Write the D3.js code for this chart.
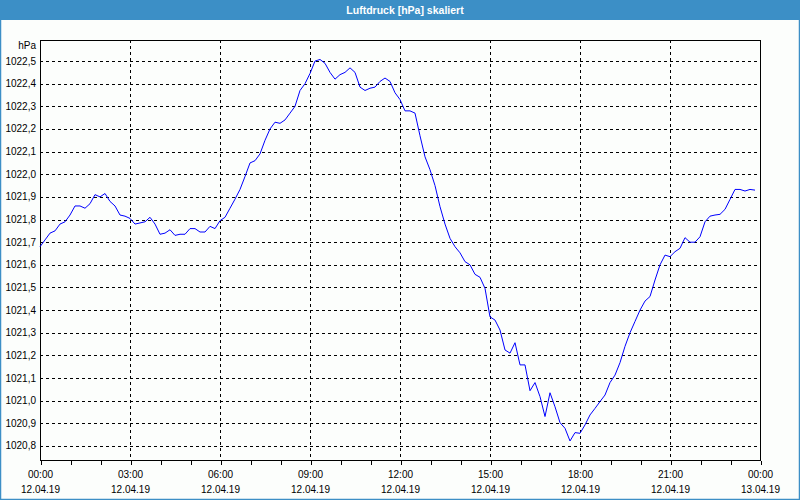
<!DOCTYPE html>
<html>
<head>
<meta charset="utf-8">
<script src="https://cdn.jsdelivr.net/npm/d3@7"></script>
<style>
  body { margin: 0; background: #fff; }
  text { font-family: "Liberation Sans", Arial, sans-serif; }
</style>
</head>
<body>
<div id="chart"></div>
<script>
// pressure samples every 10 minutes, 12.04.19 00:00 .. 23:50
var startTime = new Date(2019, 3, 12, 0, 0);
var endTime = new Date(2019, 3, 13, 0, 0);
var stepMinutes = 10;

var pressure = [
    1021.68, 1021.71, 1021.74, 1021.75, 1021.78, 1021.79, 1021.82, 1021.86, 1021.86, 1021.85,
    1021.87, 1021.91, 1021.90, 1021.915, 1021.88, 1021.86, 1021.82, 1021.815, 1021.805, 1021.78,
    1021.785, 1021.79, 1021.81, 1021.78, 1021.735, 1021.74, 1021.755, 1021.73, 1021.735, 1021.735,
    1021.76, 1021.76, 1021.745, 1021.745, 1021.77, 1021.76, 1021.795, 1021.81, 1021.85, 1021.89,
    1021.933, 1021.99, 1022.05, 1022.06, 1022.09, 1022.15, 1022.20, 1022.23, 1022.225, 1022.24,
    1022.27, 1022.30, 1022.37, 1022.40, 1022.445, 1022.50, 1022.507, 1022.49, 1022.45, 1022.42,
    1022.44, 1022.45, 1022.47, 1022.45, 1022.385, 1022.37, 1022.38, 1022.385, 1022.41, 1022.425,
    1022.41, 1022.36, 1022.33, 1022.28, 1022.28, 1022.27, 1022.17, 1022.077, 1022.02, 1021.95,
    1021.857, 1021.78, 1021.717, 1021.68, 1021.653, 1021.614, 1021.60, 1021.558, 1021.545, 1021.496,
    1021.37, 1021.356, 1021.312, 1021.224, 1021.21, 1021.256, 1021.158, 1021.158, 1021.044, 1021.08,
    1021.018, 1020.93, 1021.035, 1020.973, 1020.903, 1020.878, 1020.822, 1020.859, 1020.856, 1020.893,
    1020.937, 1020.966, 1020.996, 1021.025, 1021.08, 1021.113, 1021.168, 1021.24, 1021.30, 1021.35,
    1021.40, 1021.44, 1021.46, 1021.533, 1021.60, 1021.643, 1021.636, 1021.658, 1021.673, 1021.72,
    1021.70, 1021.70, 1021.724, 1021.79, 1021.815, 1021.82, 1021.823, 1021.845, 1021.889, 1021.933,
    1021.933, 1021.926, 1021.933, 1021.93
];

var yTickValues = [1020.8, 1020.9, 1021.0, 1021.1, 1021.2, 1021.3, 1021.4, 1021.5, 1021.6,
    1021.7, 1021.8, 1021.9, 1022.0, 1022.1, 1022.2, 1022.3, 1022.4, 1022.5];
var yDomain = [1020.738, 1022.593];
var xLabelEveryHours = 3;

var titleText = "Luftdruck [hPa] skaliert";
var unitText = "hPa";

var svgWidth = 800;
var svgHeight = 500;
var margin = { top: 40, right: 40, bottom: 40, left: 40 };
var width = svgWidth - margin.left - margin.right;
var height = svgHeight - margin.top - margin.bottom;

var data = pressure.map(function (v, i) {
    return { t: d3.timeMinute.offset(startTime, i * stepMinutes), v: v };
});

var svg = d3.select("#chart").append("svg")
    .attr("width", svgWidth)
    .attr("height", svgHeight);

// window frame + title bar
svg.append("rect")
    .attr("x", 0).attr("y", 0)
    .attr("width", svgWidth).attr("height", svgHeight)
    .attr("fill", "#fcfefc");
svg.append("rect")
    .attr("x", 0.5).attr("y", 0.5)
    .attr("width", svgWidth - 1).attr("height", svgHeight - 1)
    .attr("fill", "none")
    .attr("stroke", "#3c8fc6")
    .attr("stroke-width", 1.5);
svg.append("rect")
    .attr("x", 0).attr("y", 0)
    .attr("width", svgWidth).attr("height", 20)
    .attr("fill", "#3c8fc6");
svg.append("text")
    .attr("x", svgWidth / 2 + 5)
    .attr("y", 10)
    .attr("dy", "0.35em")
    .attr("text-anchor", "middle")
    .attr("fill", "#fff")
    .style("font-size", "10.5px")
    .style("font-weight", "bold")
    .text(titleText);

var chartGroup = svg.append("g")
    .attr("transform", `translate(${margin.left}, ${margin.top})`);

var xScale = d3.scaleTime().domain([startTime, endTime]).range([0, width]);
var yScale = d3.scaleLinear().domain(yDomain).range([height, 0]);

var commaFormat = d3.formatLocale({ decimal: ",", thousands: "", grouping: [3], currency: ["", ""] }).format(".1f");

// horizontal grid
chartGroup.append("g")
    .selectAll("line")
    .data(yTickValues)
    .enter()
    .append("line")
    .attr("x1", 0).attr("x2", width)
    .attr("y1", d => Math.round(yScale(d)) + 0.5)
    .attr("y2", d => Math.round(yScale(d)) + 0.5)
    .attr("stroke", "#000")
    .attr("stroke-dasharray", "3,3")
    .attr("shape-rendering", "crispEdges");

// vertical grid
var xLabelTimes = d3.timeHour.every(xLabelEveryHours).range(startTime, d3.timeMinute.offset(endTime, 1));
chartGroup.append("g")
    .selectAll("line")
    .data(xLabelTimes.slice(1, -1))
    .enter()
    .append("line")
    .attr("x1", d => Math.round(xScale(d)) + 0.5)
    .attr("x2", d => Math.round(xScale(d)) + 0.5)
    .attr("y1", 0).attr("y2", height)
    .attr("stroke", "#000")
    .attr("stroke-dasharray", "3,3")
    .attr("shape-rendering", "crispEdges");

// frame
chartGroup.append("rect")
    .attr("x", 0.5).attr("y", 0.5)
    .attr("width", width).attr("height", height)
    .attr("fill", "none")
    .attr("stroke", "#000")
    .attr("shape-rendering", "crispEdges");

// x axis: hourly ticks, labels every 3 hours
var bottomAxis = d3.axisBottom(xScale)
    .ticks(d3.timeHour.every(1))
    .tickSize(4)
    .tickFormat("");
var xAxis = chartGroup.append("g")
    .attr("transform", `translate(0.5, ${height + 0.5})`)
    .call(bottomAxis);
xAxis.select(".domain").remove();
xAxis.selectAll("line").attr("shape-rendering", "crispEdges");

var xLabels = chartGroup.append("g")
    .selectAll("g")
    .data(xLabelTimes)
    .enter()
    .append("g")
    .attr("transform", d => `translate(${xScale(d) + 0.5}, ${height})`);
xLabels.append("text")
    .attr("y", 14)
    .attr("dy", "0.35em")
    .attr("text-anchor", "middle")
    .style("font-size", "10px")
    .text(d => d3.timeFormat("%H:%M")(d));
xLabels.append("text")
    .attr("y", 29)
    .attr("dy", "0.35em")
    .attr("text-anchor", "middle")
    .style("font-size", "10px")
    .text(d => d3.timeFormat("%d.%m.%y")(d));

// y labels
chartGroup.append("g")
    .selectAll("text")
    .data(yTickValues)
    .enter()
    .append("text")
    .attr("x", -4)
    .attr("y", d => yScale(d))
    .attr("dy", "0.35em")
    .attr("text-anchor", "end")
    .style("font-size", "10px")
    .text(d => commaFormat(d));

chartGroup.append("text")
    .attr("x", -4)
    .attr("y", 5)
    .attr("dy", "0.35em")
    .attr("text-anchor", "end")
    .style("font-size", "10px")
    .text(unitText);

// pressure line
var line = d3.line()
    .x(d => xScale(d.t))
    .y(d => yScale(d.v));

chartGroup.append("path")
    .datum(data)
    .attr("d", line)
    .attr("fill", "none")
    .attr("stroke", "#0000ff")
    .attr("stroke-width", 1);
</script>
</body>
</html>
